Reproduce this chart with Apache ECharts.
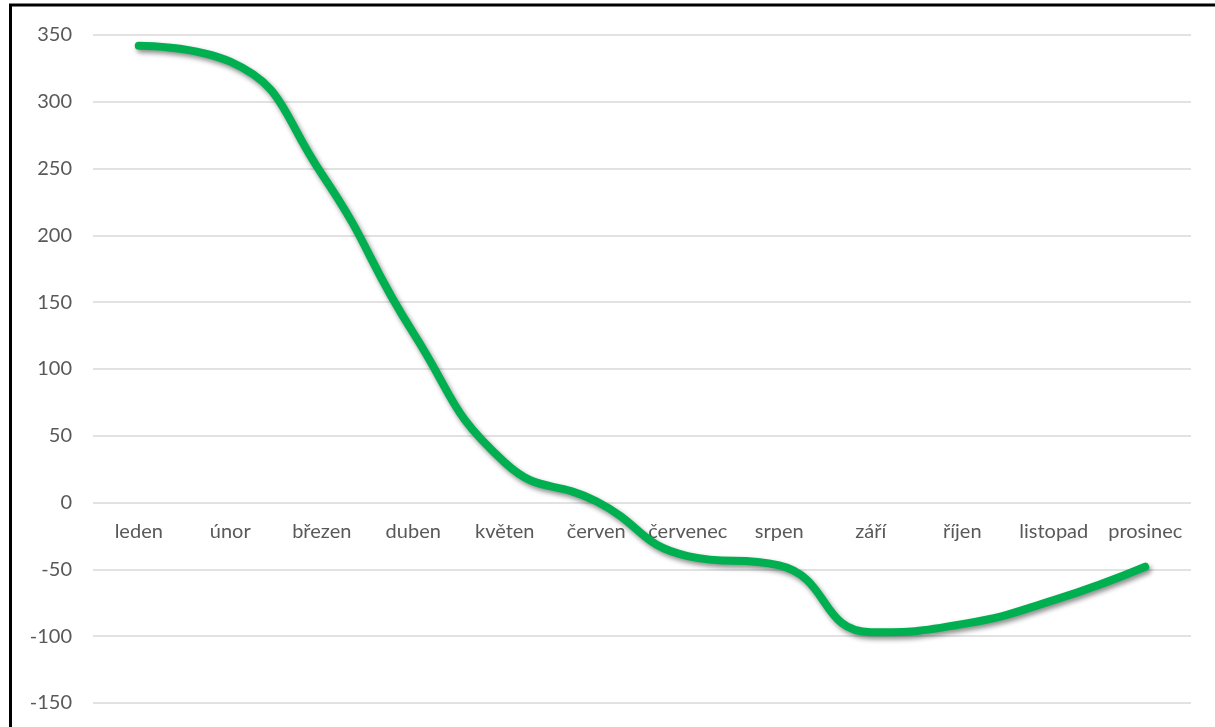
<!DOCTYPE html>
<html><head><meta charset="utf-8">
<script src="https://cdn.jsdelivr.net/npm/echarts@6/dist/echarts.min.js"></script>
<style>html,body{margin:0;padding:0;background:#fff;}#c{width:1215px;height:727px;}</style>
</head><body><div id="c"></div>
<script>
const categories = ['leden','únor','březen','duben','květen','červen','červenec','srpen','září','říjen','listopad','prosinec'];
const values = [342, 330, 246, 127, 30, 1, -40, -47, -97, -91, -73, -48];
const yTicks = { min: -150, max: 350, interval: 50 };

const chart = echarts.init(document.getElementById('c'), null, { renderer: 'canvas' });
chart.setOption({
  animation: false,
  backgroundColor: '#fff',
  grid: { left: 93, right: 24, top: 35, bottom: 24, containLabel: false },
  graphic: [{
    type: 'rect', z: 100, silent: true,
    shape: { x: 10.5, y: 5, width: 1400, height: 900 },
    style: { fill: 'none', stroke: '#000', lineWidth: 3 }
  }],
  xAxis: {
    type: 'category', data: categories, boundaryGap: true, position: 'bottom',
    offset: -201,
    axisLine: { show: false, onZero: false },
    axisTick: { show: false },
    axisLabel: { color: '#595959', fontFamily: 'Lato', fontSize: 20, margin: 20, interval: 0 },
    splitLine: { show: false }
  },
  yAxis: {
    type: 'value', min: yTicks.min, max: yTicks.max, interval: yTicks.interval,
    axisLine: { show: false }, axisTick: { show: false },
    axisLabel: { color: '#595959', fontFamily: 'Lato', fontSize: 20, margin: 21 },
    splitLine: { lineStyle: { color: '#d9d9d9', width: 1.5 } }
  },
  series: [{
    type: 'line', data: values, smooth: 0.5, symbol: 'none',
    lineStyle: { color: '#00B050', width: 8, cap: 'round', join: 'round',
      shadowColor: 'rgba(0,0,0,0.45)', shadowBlur: 5, shadowOffsetX: 2, shadowOffsetY: 3 }
  }]
});
</script></body></html>
